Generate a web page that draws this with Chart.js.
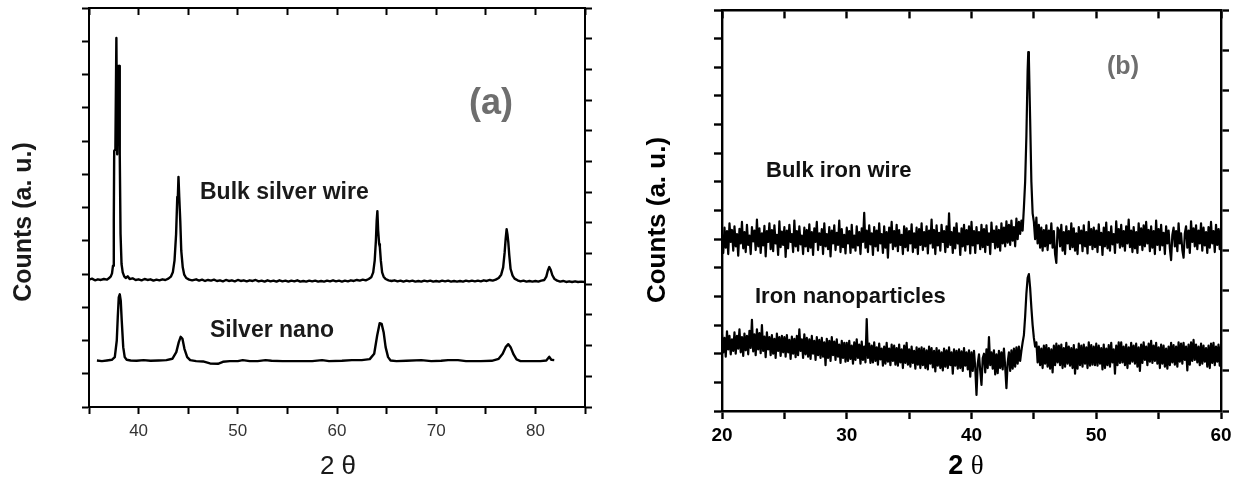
<!DOCTYPE html>
<html><head><meta charset="utf-8">
<script src="https://cdn.jsdelivr.net/npm/chart.js@4.4.0/dist/chart.umd.min.js"></script>
<style>
html,body{margin:0;padding:0;background:#fff;}
#wrap{position:relative;width:1242px;height:488px;overflow:hidden;background:#fff;}
canvas{position:absolute;top:0;}
#ca{left:0;} #cb{left:621px;}
</style></head><body>
<div id="wrap"><canvas id="ca" width="621" height="488"></canvas><canvas id="cb" width="621" height="488"></canvas></div>
<script>
// ---------- Panel (a): silver, [2θ, counts (a.u.)] ----------
const bulkSilver = [[35.0,383],[35.3,386],[35.6,381],[35.9,384],[36.2,382],[36.5,385],[36.8,383],[37.0,387],[37.2,393],[37.32,402],[37.42,425],[37.5,560],[37.54,770],[37.66,775],[37.76,1110],[37.84,760],[37.95,1026],[38.05,1026],[38.1,760],[38.18,520],[38.28,430],[38.4,405],[38.55,393],[38.7,388],[38.9,393],[39.1,385],[39.4,387],[39.7,382],[40.0,384],[40.3,381],[40.6,385],[40.9,382],[41.2,384],[41.5,380],[41.8,383],[42.1,381],[42.4,384],[42.7,382],[43.0,386],[43.25,392],[43.45,405],[43.62,440],[43.78,520],[43.9,632],[43.96,635],[44.02,692],[44.1,630],[44.2,560],[44.3,470],[44.45,420],[44.6,398],[44.8,388],[45.1,383],[45.4,381],[45.8,384],[46.1,380],[46.4,383],[46.7,379],[47.0,382],[47.3,380],[47.6,383],[47.9,379],[48.2,381],[48.5,378],[48.8,382],[49.1,379],[49.4,381],[49.7,378],[50.0,382],[50.3,379],[50.6,381],[50.9,378],[51.2,381],[51.5,379],[51.8,382],[52.1,378],[52.4,380],[52.7,377],[53.0,381],[53.3,378],[53.6,380],[53.9,377],[54.2,381],[54.5,378],[54.8,380],[55.1,377],[55.4,380],[55.7,378],[56.0,381],[56.3,377],[56.6,379],[56.9,377],[57.2,380],[57.5,378],[57.8,380],[58.1,377],[58.4,379],[58.7,377],[59.0,380],[59.3,378],[59.6,381],[59.9,378],[60.2,380],[60.5,377],[60.8,380],[61.1,378],[61.4,381],[61.7,379],[62.0,382],[62.3,380],[62.6,383],[62.9,381],[63.2,385],[63.45,390],[63.65,405],[63.8,440],[63.92,500],[64.0,560],[64.07,589],[64.15,530],[64.25,490],[64.32,481],[64.42,440],[64.55,405],[64.7,392],[64.9,385],[65.2,381],[65.5,379],[65.8,381],[66.1,378],[66.4,380],[66.7,377],[67.0,380],[67.3,378],[67.6,380],[67.9,377],[68.2,379],[68.5,377],[68.8,380],[69.1,378],[69.4,380],[69.7,377],[70.0,379],[70.3,377],[70.6,380],[70.9,378],[71.2,380],[71.5,377],[71.8,379],[72.1,377],[72.4,379],[72.7,377],[73.0,380],[73.3,378],[73.6,380],[73.9,378],[74.2,380],[74.5,378],[74.8,381],[75.1,379],[75.4,382],[75.7,380],[76.0,383],[76.3,388],[76.55,398],[76.75,420],[76.9,465],[77.0,505],[77.1,535],[77.18,520],[77.27,495],[77.37,455],[77.5,415],[77.7,395],[77.9,386],[78.2,381],[78.5,378],[78.8,380],[79.1,377],[79.4,379],[79.7,377],[80.0,379],[80.3,377],[80.6,380],[80.9,382],[81.1,392],[81.25,410],[81.4,421],[81.55,412],[81.7,397],[81.9,386],[82.2,380],[82.5,377],[82.8,379],[83.1,376],[83.4,378],[83.7,376],[84.0,378],[84.3,376],[84.6,377],[85.0,376]];
const silverNano = [[35.8,140],[36.3,138],[36.8,140],[37.3,142],[37.6,150],[37.8,200],[37.9,270],[38.0,330],[38.1,339],[38.2,320],[38.3,260],[38.45,180],[38.6,150],[38.8,142],[39.2,140],[39.8,139],[40.5,141],[41.2,139],[42.0,140],[42.8,141],[43.4,145],[43.8,165],[44.05,195],[44.24,211],[44.42,205],[44.62,175],[44.9,150],[45.2,141],[45.8,138],[46.5,137],[47.2,131],[48.0,130],[48.5,136],[49.2,138],[50.0,138],[50.5,141],[51.2,138],[52.0,138],[52.8,141],[53.4,139],[54.5,138],[56.0,138],[57.5,138],[58.5,141],[59.2,138],[60.5,139],[61.5,141],[62.5,141],[63.3,144],[63.75,160],[64.05,215],[64.3,252],[64.5,250],[64.7,225],[64.9,180],[65.15,150],[65.4,140],[66.0,138],[67.0,139],[68.5,141],[69.5,138],[70.5,139],[71.2,141],[72.2,141],[73.0,138],[74.5,138],[75.6,139],[76.3,145],[76.7,160],[77.0,180],[77.27,189],[77.5,180],[77.8,158],[78.1,143],[78.5,138],[79.5,138],[80.5,138],[81.1,140],[81.4,151],[81.6,142],[81.9,141]];
const xTicksA = [40, 50, 60, 70, 80];

// ---------- Panel (b): iron, [2θ, counts (a.u.)] ----------
const bulkIron = [
[20.0,615],[20.1,552],[20.2,640],[20.3,570],[20.4,628],[20.5,548],[20.6,655],[20.7,590],[20.8,632],[20.9,560],
[21.0,645],[21.1,575],[21.2,618],[21.3,542],[21.4,636],[21.5,585],[21.6,660],[21.7,568],[21.8,625],[21.9,555],
[22.0,650],[22.1,580],[22.2,612],[22.3,548],[22.4,642],[22.5,592],[22.6,630],[22.7,562],[22.8,668],[22.9,575],
[23.0,638],[23.1,552],[23.2,620],[23.3,578],[23.4,646],[23.5,540],[23.6,628],[23.7,590],[23.8,655],[23.9,565],
[24.0,632],[24.1,558],[24.2,648],[24.3,585],[24.4,615],[24.5,545],[24.6,662],[24.7,572],[24.8,626],[24.9,580],
[25.0,642],[25.1,538],[25.2,630],[25.3,568],[25.4,650],[25.5,590],[25.6,618],[25.7,555],[25.8,665],[25.9,575],
[26.0,628],[26.1,560],[26.2,645],[26.3,582],[26.4,612],[26.5,548],[26.6,640],[26.7,575],[26.8,632],[26.9,558],
[27.0,652],[27.1,570],[27.2,625],[27.3,545],[27.4,638],[27.5,590],[27.6,660],[27.7,562],[27.8,620],[27.9,580],
[28.0,635],[28.1,548],[28.2,655],[28.3,575],[28.4,618],[28.5,565],[28.6,642],[28.7,540],[28.8,630],[28.9,585],
[29.0,648],[29.1,562],[29.2,622],[29.3,580],[29.4,665],[29.5,555],[29.6,635],[29.7,572],[29.8,615],[29.9,550],
[30.0,640],[30.1,585],[30.2,628],[30.3,552],[30.4,650],[30.5,570],[30.6,612],[30.7,560],[30.8,645],[30.9,578],
[31.0,625],[31.1,548],[31.2,638],[31.3,590],[31.4,692],[31.5,570],[31.6,630],[31.7,555],[31.8,648],[31.9,582],
[32.0,620],[32.1,545],[32.2,642],[32.3,575],[32.4,630],[32.5,560],[32.6,655],[32.7,585],[32.8,618],[32.9,552],
[33.0,645],[33.1,570],[33.2,625],[33.3,535],[33.4,640],[33.5,588],[33.6,660],[33.7,565],[33.8,628],[33.9,575],
[34.0,650],[34.1,558],[34.2,632],[34.3,580],[34.4,615],[34.5,548],[34.6,645],[34.7,572],[34.8,638],[34.9,560],
[35.0,628],[35.1,585],[35.2,652],[35.3,555],[35.4,620],[35.5,570],[35.6,640],[35.7,548],[35.8,635],[35.9,580],
[36.0,655],[36.1,562],[36.2,625],[36.3,575],[36.4,645],[36.5,550],[36.6,630],[36.7,585],[36.8,668],[36.9,570],
[37.0,632],[37.1,548],[37.2,648],[37.3,578],[37.4,622],[37.5,560],[37.6,650],[37.7,590],[37.8,628],[37.9,555],
[38.0,645],[38.1,572],[38.2,690],[38.3,580],[38.4,625],[38.5,552],[38.6,640],[38.7,568],[38.8,655],[38.9,585],
[39.0,620],[39.1,545],[39.2,638],[39.3,575],[39.4,650],[39.5,560],[39.6,632],[39.7,582],[39.8,645],[39.9,550],
[40.0,660],[40.1,578],[40.2,628],[40.3,552],[40.4,642],[40.5,585],[40.6,625],[40.7,565],[40.8,650],[40.9,572],
[41.0,635],[41.1,555],[41.2,648],[41.3,580],[41.4,620],[41.5,548],[41.6,658],[41.7,590],[41.8,630],[41.9,568],
[42.0,645],[42.1,572],[42.2,632],[42.3,560],[42.4,655],[42.5,585],[42.6,640],[42.7,575],[42.8,662],[42.9,588],
[43.0,650],[43.1,580],[43.2,665],[43.3,595],[43.4,642],[43.5,575],[43.6,672],[43.7,600],[43.8,660],[43.9,618],
[44.0,665],[44.1,630],[44.2,710],[44.3,800],[44.4,960],[44.5,1190],[44.55,1253],[44.6,1230],[44.7,1020],[44.8,800],[44.9,690],
[45.0,660],[45.1,600],[45.2,675],[45.3,585],[45.4,650],[45.5,570],[45.6,640],[45.7,560],[45.8,632],[45.9,575],
[46.0,648],[46.1,562],[46.2,630],[46.3,585],[46.4,655],[46.5,570],[46.6,628],[46.7,548],[46.8,517],[46.9,640],
[47.0,632],[47.1,575],[47.2,650],[47.3,560],[47.4,625],[47.5,548],[47.6,645],[47.7,585],[47.8,628],[47.9,565],
[48.0,655],[48.1,572],[48.2,638],[48.3,560],[48.4,620],[48.5,548],[48.6,642],[48.7,585],[48.8,630],[48.9,558],
[49.0,648],[49.1,575],[49.2,625],[49.3,550],[49.4,660],[49.5,580],[49.6,635],[49.7,565],[49.8,640],[49.9,572],
[50.0,630],[50.1,555],[50.2,652],[50.3,580],[50.4,622],[50.5,545],[50.6,640],[50.7,575],[50.8,658],[50.9,568],
[51.0,625],[51.1,560],[51.2,645],[51.3,582],[51.4,618],[51.5,552],[51.6,662],[51.7,588],[51.8,635],[51.9,570],
[52.0,650],[52.1,575],[52.2,628],[52.3,560],[52.4,645],[52.5,585],[52.6,668],[52.7,572],[52.8,630],[52.9,555],
[53.0,642],[53.1,568],[53.2,625],[53.3,552],[53.4,655],[53.5,580],[53.6,638],[53.7,562],[53.8,648],[53.9,575],
[54.0,660],[54.1,585],[54.2,632],[54.3,558],[54.4,645],[54.5,570],[54.6,628],[54.7,548],[54.8,665],[54.9,580],
[55.0,635],[55.1,562],[55.2,650],[55.3,578],[55.4,622],[55.5,548],[55.6,645],[55.7,585],[55.8,630],[55.9,568],
[56.0,527],[56.1,615],[56.2,640],[56.3,575],[56.4,628],[56.5,558],[56.6,655],[56.7,585],[56.8,620],[56.9,562],
[57.0,535],[57.1,620],[57.2,645],[57.3,570],[57.4,630],[57.5,552],[57.6,662],[57.7,590],[57.8,638],[57.9,575],
[58.0,648],[58.1,565],[58.2,630],[58.3,585],[58.4,655],[58.5,560],[58.6,640],[58.7,578],[58.8,625],[58.9,552],
[59.0,642],[59.1,570],[59.2,660],[59.3,585],[59.4,628],[59.5,555],[59.6,650],[59.7,580],[59.8,635],[59.9,565],
[60.0,640]];
const ironNano = [
[20.0,268],[20.1,205],[20.2,255],[20.3,190],[20.4,278],[20.5,215],[20.6,262],[20.7,198],[20.8,250],[20.9,210],
[21.0,275],[21.1,200],[21.2,262],[21.3,218],[21.4,285],[21.5,205],[21.6,258],[21.7,192],[21.8,270],[21.9,212],
[22.0,262],[22.1,198],[22.2,280],[22.3,220],[22.4,318],[22.5,208],[22.6,268],[22.7,195],[22.8,285],[22.9,215],
[23.0,272],[23.1,202],[23.2,300],[23.3,210],[23.4,260],[23.5,188],[23.6,275],[23.7,215],[23.8,258],[23.9,195],
[24.0,265],[24.1,200],[24.2,252],[24.3,185],[24.4,270],[24.5,210],[24.6,258],[24.7,192],[24.8,262],[24.9,205],
[25.0,258],[25.1,190],[25.2,265],[25.3,205],[25.4,248],[25.5,182],[25.6,260],[25.7,200],[25.8,252],[25.9,188],
[26.0,262],[26.1,195],[26.2,285],[26.3,210],[26.4,250],[26.5,185],[26.6,268],[26.7,198],[26.8,255],[26.9,190],
[27.0,250],[27.1,182],[27.2,262],[27.3,200],[27.4,245],[27.5,178],[27.6,258],[27.7,195],[27.8,248],[27.9,185],
[28.0,255],[28.1,190],[28.2,240],[28.3,160],[28.4,252],[28.5,185],[28.6,245],[28.7,175],[28.8,258],[28.9,195],
[29.0,242],[29.1,178],[29.2,250],[29.3,190],[29.4,232],[29.5,168],[29.6,245],[29.7,185],[29.8,238],[29.9,172],
[30.0,238],[30.1,175],[30.2,245],[30.3,182],[30.4,228],[30.5,165],[30.6,240],[30.7,178],[30.8,250],[30.9,185],
[31.0,232],[31.1,165],[31.2,242],[31.3,178],[31.4,225],[31.5,170],[31.6,321],[31.7,185],[31.8,235],[31.9,168],
[32.0,228],[32.1,170],[32.2,240],[32.3,175],[32.4,222],[32.5,162],[32.6,235],[32.7,180],[32.8,218],[32.9,158],
[33.0,225],[33.1,165],[33.2,238],[33.3,172],[33.4,218],[33.5,160],[33.6,232],[33.7,175],[33.8,228],[33.9,162],
[34.0,220],[34.1,158],[34.2,232],[34.3,170],[34.4,215],[34.5,150],[34.6,228],[34.7,168],[34.8,238],[34.9,162],
[35.0,215],[35.1,155],[35.2,225],[35.3,168],[35.4,210],[35.5,148],[35.6,222],[35.7,162],[35.8,218],[35.9,150],
[36.0,222],[36.1,160],[36.2,218],[36.3,150],[36.4,212],[36.5,145],[36.6,225],[36.7,165],[36.8,220],[36.9,152],
[37.0,210],[37.1,138],[37.2,220],[37.3,158],[37.4,212],[37.5,150],[37.6,205],[37.7,142],[37.8,218],[37.9,155],
[38.0,212],[38.1,150],[38.2,222],[38.3,160],[38.4,205],[38.5,130],[38.6,215],[38.7,158],[38.8,210],[38.9,148],
[39.0,215],[39.1,150],[39.2,208],[39.3,140],[39.4,220],[39.5,158],[39.6,205],[39.7,145],[39.8,212],[39.9,120],
[40.0,205],[40.1,140],[40.2,210],[40.3,152],[40.4,56],[40.5,165],[40.6,198],[40.7,140],[40.8,91],[40.9,185],
[41.0,200],[41.1,135],[41.2,215],[41.3,150],[41.4,258],[41.5,160],[41.6,205],[41.7,148],[41.8,212],[41.9,128],
[42.0,198],[42.1,132],[42.2,210],[42.3,150],[42.4,205],[42.5,145],[42.6,218],[42.7,155],[42.8,80],[42.9,170],
[43.0,205],[43.1,140],[43.2,212],[43.3,148],[43.4,218],[43.5,155],[43.6,222],[43.7,165],[43.8,225],[43.9,175],
[44.0,210],[44.1,240],[44.2,265],[44.3,330],[44.4,410],[44.5,465],[44.6,478],[44.7,430],[44.8,360],[44.9,300],
[45.0,255],[45.1,225],[45.2,240],[45.3,170],[45.4,225],[45.5,160],[45.6,218],[45.7,150],[45.8,228],[45.9,165],
[46.0,230],[46.1,155],[46.2,220],[46.3,148],[46.4,215],[46.5,135],[46.6,228],[46.7,160],[46.8,235],[46.9,170],
[47.0,228],[47.1,160],[47.2,232],[47.3,150],[47.4,220],[47.5,155],[47.6,238],[47.7,165],[47.8,225],[47.9,158],
[48.0,220],[48.1,150],[48.2,230],[48.3,130],[48.4,215],[48.5,148],[48.6,235],[48.7,160],[48.8,228],[48.9,155],
[49.0,232],[49.1,165],[49.2,222],[49.3,150],[49.4,240],[49.5,158],[49.6,230],[49.7,162],[49.8,225],[49.9,160],
[50.0,235],[50.1,158],[50.2,228],[50.3,165],[50.4,220],[50.5,145],[50.6,232],[50.7,150],[50.8,218],[50.9,160],
[51.0,230],[51.1,155],[51.2,238],[51.3,170],[51.4,215],[51.5,130],[51.6,228],[51.7,160],[51.8,240],[51.9,168],
[52.0,240],[52.1,170],[52.2,225],[52.3,160],[52.4,232],[52.5,150],[52.6,222],[52.7,165],[52.8,238],[52.9,172],
[53.0,228],[53.1,165],[53.2,235],[53.3,155],[53.4,222],[53.5,140],[53.6,232],[53.7,168],[53.8,240],[53.9,178],
[54.0,225],[54.1,160],[54.2,235],[54.3,172],[54.4,245],[54.5,168],[54.6,228],[54.7,175],[54.8,238],[54.9,165],
[55.0,222],[55.1,150],[55.2,232],[55.3,165],[55.4,228],[55.5,155],[55.6,218],[55.7,148],[55.8,225],[55.9,160],
[56.0,238],[56.1,170],[56.2,230],[56.3,162],[56.4,225],[56.5,155],[56.6,240],[56.7,172],[56.8,235],[56.9,165],
[57.0,238],[57.1,178],[57.2,225],[57.3,142],[57.4,232],[57.5,162],[57.6,240],[57.7,175],[57.8,248],[57.9,178],
[58.0,232],[58.1,170],[58.2,225],[58.3,160],[58.4,235],[58.5,165],[58.6,228],[58.7,172],[58.8,220],[58.9,155],
[59.0,228],[59.1,150],[59.2,235],[59.3,168],[59.4,238],[59.5,160],[59.6,225],[59.7,172],[59.8,232],[59.9,158],
[60.0,228]];
const xTicksB = [20, 30, 40, 50, 60];

const SANS = '"Liberation Sans", Arial, sans-serif';
const SERIF = '"Liberation Serif", "Times New Roman", serif';

const panelText = {
  id: 'panelText',
  afterDraw(chart, args, opts) {
    const ctx = chart.ctx;
    for (const t of (opts.items || [])) {
      ctx.save();
      ctx.fillStyle = t.color || '#111';
      ctx.textBaseline = t.baseline || 'middle';
      ctx.translate(t.x, t.y);
      if (t.rot) ctx.rotate(t.rot);
      const parts = t.parts || [{ text: t.text, font: t.font }];
      let total = 0;
      for (const p of parts) { ctx.font = p.font; total += ctx.measureText(p.text).width; }
      let x = t.align === 'left' ? 0 : -total / 2;
      ctx.textAlign = 'left';
      for (const p of parts) { ctx.font = p.font; ctx.fillText(p.text, x, 0); x += ctx.measureText(p.text).width; }
      ctx.restore();
    }
  }
};

function makeChart(id, o) {
  const axisLine = { display: true, width: o.bw, color: '#000' };
  const tickGrid = { drawOnChartArea: false, drawTicks: true, tickLength: o.tl, tickWidth: o.bw, tickColor: '#000' };
  return new Chart(document.getElementById(id), {
    type: 'line',
    data: {
      datasets: o.series.map(s => ({
        data: s.map(p => ({ x: p[0], y: p[1] })),
        borderColor: '#000', borderWidth: o.lw, pointRadius: 0, tension: 0, fill: false,
        borderJoinStyle: 'round', xAxisID: 'x', yAxisID: 'y'
      }))
    },
    options: {
      responsive: false, animation: false, devicePixelRatio: 1,
      layout: { padding: { top: o.top, left: 0, right: 0, bottom: 0 } },
      plugins: { legend: { display: false }, tooltip: { enabled: false }, panelText: { items: o.texts } },
      scales: {
        x: {
          type: 'linear', position: 'bottom', min: o.xmin, max: o.xmax,
          ticks: { stepSize: 5, autoSkip: false, maxRotation: 0, padding: o.tickPad,
            callback: v => (o.xLabels.includes(v) ? String(v) : ''),
            font: o.tickFont, color: o.tickColor },
          grid: tickGrid, border: axisLine,
          afterFit: s => { s.height = o.bottomH; }
        },
        xTop: {
          type: 'linear', axis: 'x', position: { y: o.ymax }, min: o.xmin, max: o.xmax,
          ticks: { display: false, stepSize: 5 }, grid: { ...tickGrid, tickLength: o.tl - 1 }, border: axisLine
        },
        y: {
          type: 'linear', position: 'left', min: 0, max: o.ymax,
          ticks: { display: false, stepSize: 100 }, grid: tickGrid, border: axisLine,
          afterFit: s => { s.width = o.leftW; }
        },
        yRight: {
          type: 'linear', position: 'right', min: 0, max: o.rmax,
          ticks: { display: false, stepSize: 1 }, grid: tickGrid, border: axisLine,
          afterFit: s => { s.width = o.rightW; }
        }
      }
    },
    plugins: [panelText]
  });
}

makeChart('ca', {
  series: [bulkSilver, silverNano], lw: 2.4, bw: 2, tl: 7,
  xmin: 35, xmax: 85, ymax: 1200, rmax: 13, xLabels: xTicksA,
  top: 8, leftW: 89, rightW: 36, bottomH: 81, tickPad: 7,
  tickFont: { family: SANS, size: 17 }, tickColor: '#333',
  texts: [
    { text: 'Counts (a. u.)', font: 'bold 25px ' + SANS, x: 24, y: 222, rot: -Math.PI / 2, color: '#1a1a1a' },
    { text: '2 θ', font: '26px ' + SANS, x: 338, y: 467, color: '#1a1a1a' },
    { text: 'Bulk silver wire', font: 'bold 23px ' + SANS, x: 200, y: 199, align: 'left', baseline: 'alphabetic', color: '#1a1a1a' },
    { text: 'Silver nano', font: 'bold 23px ' + SANS, x: 210, y: 337, align: 'left', baseline: 'alphabetic', color: '#1a1a1a' },
    { text: '(a)', font: 'bold 36px ' + SANS, x: 491, y: 104, color: '#6e6e6e' }
  ]
});

makeChart('cb', {
  series: [bulkIron, ironNano], lw: 2.2, bw: 2.4, tl: 8,
  xmin: 20, xmax: 60, ymax: 1400, rmax: 10, xLabels: xTicksB,
  top: 10, leftW: 101, rightW: 21, bottomH: 77, tickPad: 5,
  tickFont: { family: SANS, size: 19, weight: 'bold' }, tickColor: '#000',
  texts: [
    { text: 'Counts (a. u.)', font: 'bold 26px ' + SANS, x: 37, y: 220, rot: -Math.PI / 2, color: '#000' },
    { parts: [{ text: '2 ', font: 'bold 27px ' + SANS }, { text: 'θ', font: '27px ' + SERIF }], x: 345, y: 467, color: '#000' },
    { text: 'Bulk iron wire', font: 'bold 22px ' + SANS, x: 145, y: 177, align: 'left', baseline: 'alphabetic', color: '#111' },
    { text: 'Iron nanoparticles', font: 'bold 22px ' + SANS, x: 134, y: 303, align: 'left', baseline: 'alphabetic', color: '#111' },
    { text: '(b)', font: 'bold 25px ' + SANS, x: 502, y: 67, color: '#6e6e6e' }
  ]
});
</script>
</body></html>
